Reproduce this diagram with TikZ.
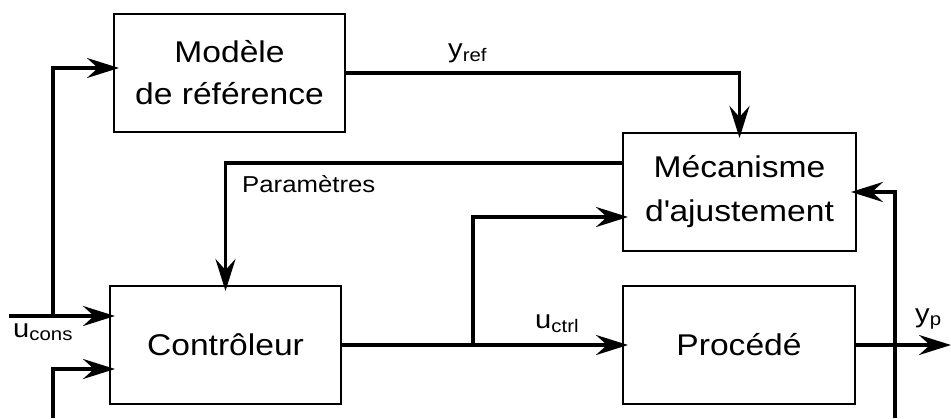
\documentclass[tikz,border=0pt]{standalone}
\usepackage{fontspec}
\setmainfont{Liberation Sans}[FakeStretch=1.12]
\usetikzlibrary{arrows.meta}

\begin{document}
\begin{tikzpicture}[x=1pt,y=-1pt,
    bloc/.style={draw,line width=2pt,minimum width=231pt,minimum height=118pt,
      align=center,font=\fontsize{30}{42}\selectfont},
    sig/.style={line width=3.5pt,-{Stealth[length=32pt,width=20pt,inset=11pt]},
      shorten >=-6pt},
    lab/.style={inner sep=0pt,anchor=base west,font=\fontsize{26}{30}\selectfont}]
  \useasboundingbox (0,0) rectangle (951,418);
  % blocs
  \node[bloc] (modele) at (229.5,73) {Modèle\\de référence};
  \node[bloc,minimum width=233pt,font=\fontsize{30}{44}\selectfont] (meca) at (739.5,192) {Mécanisme\\d\textquotesingle ajustement};
  \node[bloc] (ctrl) at (225.5,345) {Contrôleur};
  \node[bloc,minimum width=232pt] (proc) at (739,345) {Procédé};
  % points libres
  \coordinate (cons) at (9,316);
  \coordinate (fourche) at (53,316);
  \coordinate (bas) at (53,418);
  \coordinate (split) at (473,345);
  \coordinate (sortie) at (951,345);
  \coordinate (retour) at (895,418);
  % signaux
  \draw[sig] (modele.east) -| (meca.north);
  \draw[sig] ([yshift=29pt]meca.west) -| (ctrl.north);
  \draw[sig] (ctrl.east) -- (proc.west);
  \draw[sig] (split) |- ([yshift=-25pt]meca.west);
  \draw[sig,shorten >=0pt] (proc.east) -- (sortie);
  \draw[sig] (retour) |- (meca.east);
  \draw[sig] (cons) -- ([yshift=29pt]ctrl.west);
  \draw[sig] (fourche) |- ([yshift=5pt]modele.west);
  \draw[sig] (bas) |- ([yshift=-24pt]ctrl.west);
  % etiquettes
  \node[lab] (yref) at (448,57) {y\textsubscript{ref}};
  \node[lab,font=\fontsize{23}{28}\selectfont] (param) at (242,192) {Paramètres};
  \node[lab] (ucons) at (13,337) {u\textsubscript{cons}};
  \node[lab] (uctrl) at (535,328) {u\textsubscript{ctrl}};
  \node[lab] (yp) at (915,322) {y\textsubscript{p}};
\end{tikzpicture}
\end{document}
